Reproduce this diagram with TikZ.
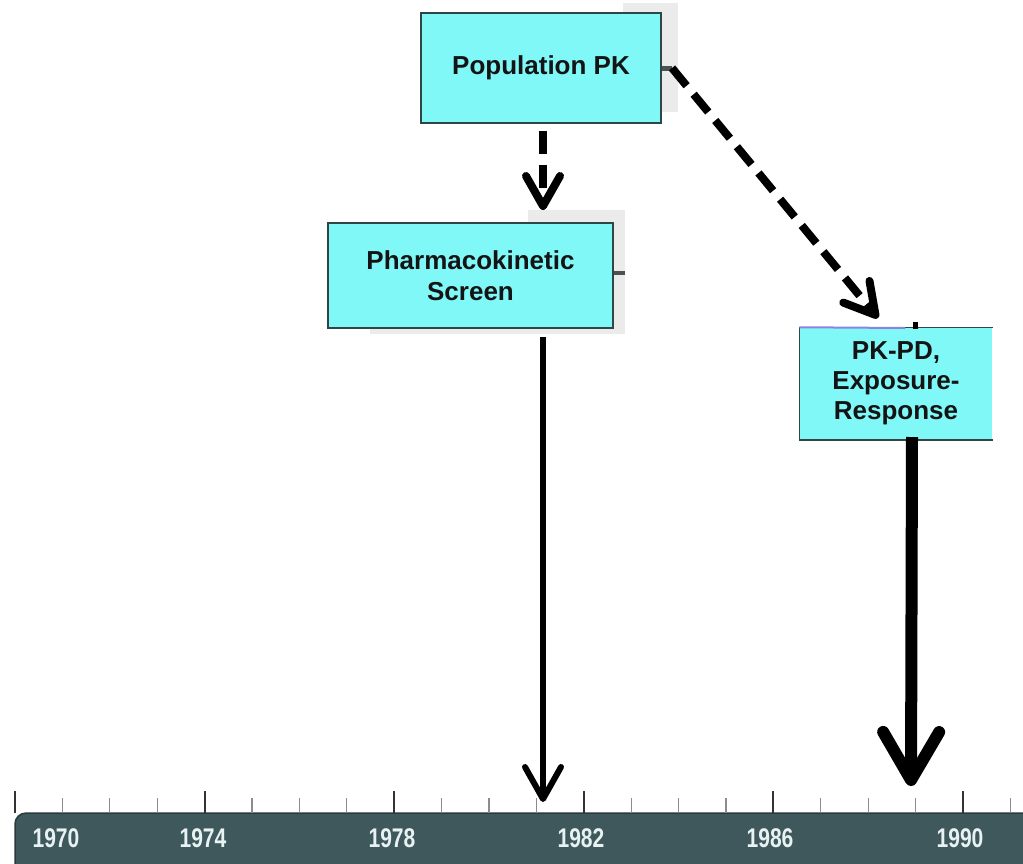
\documentclass[tikz,border=0pt]{standalone}
\usepackage{fontspec}
\usepackage{graphicx}
\setmainfont{Liberation Sans}
\usetikzlibrary{arrows.meta}
\definecolor{boxfill}{HTML}{80F8F8}
\definecolor{boxline}{HTML}{2E4646}
\definecolor{barfill}{HTML}{3E585C}
\definecolor{barline}{HTML}{2A3A3C}
\definecolor{yeartext}{HTML}{E8F2F2}
\definecolor{stubgray}{HTML}{4A5252}
\definecolor{edgeblue}{HTML}{8A86E0}
\begin{document}
\begin{tikzpicture}[x=1pt,y=-1pt,
  box/.style={draw=boxline, line width=1.5pt, fill=boxfill, text=black!92,
    font=\fontsize{26}{31}\selectfont\bfseries, align=center, inner sep=0pt},
  shadowbox/.style={fill=black!8, draw=none},
  dasharrow/.style={line width=8pt, dash pattern=on 23pt off 11pt,
    -{Straight Barb[length=30pt,width=34pt,round]}},
  solidarrow/.style={line width=6pt,
    -{Straight Barb[length=32pt,width=36pt,round]}},
  thickarrow/.style={line width=12pt,
    -{Straight Barb[length=48pt,width=56pt,round]}},
  stub/.style={stubgray, line width=5pt},
  minortick/.style={black!45, line width=1.3pt},
  majortick/.style={black!80, line width=2pt},
  yearlabel/.style={text=yeartext, font=\fontsize{27}{27}\selectfont\bfseries, inner sep=0pt}]
\useasboundingbox (0,0) rectangle (1023,863);
\fill[white] (0,0) rectangle (1023,863);

% shadows
\fill[shadowbox] (623,3) rectangle (678,112);
\fill[shadowbox] (528,210) rectangle (625,334);
\fill[shadowbox] (370,328) rectangle (625,334);

% boxes
\node[box, minimum width=240, minimum height=110] (pop) at (541,68) {Population PK};
\node[box, minimum width=285, minimum height=105] (pks) at (470.5,275.5) {Pharmacokinetic\\Screen};
\node[box, draw=none, minimum width=192, minimum height=111] (ppd) at (896,383.5) {PK-PD,\\[-1pt]Exposure-\\[-1pt]Response};
\draw[boxline, line width=1.5pt] (ppd.north east) -- (ppd.north west) -- (ppd.south west) -- (ppd.south east);
\draw[edgeblue, line width=2pt] (ppd.north west) -- (905,328);

% coordinates
\coordinate (popout) at (672,68);
\coordinate (popdown) at (543,131);
\coordinate (pkstip) at (543,210);
\coordinate (ppdtip) at (878,318);
\coordinate (pksout) at (625,273);
\coordinate (pksdown) at (543,337);
\coordinate (tip1981) at (543,802);
\coordinate (ppddown) at (912,437);
\coordinate (tip1989) at (911,786);
\coordinate (ppdtopa) at (915,322);
\coordinate (ppdtopb) at (915,329);

% stubs
\draw[stub] (pop.east) -- (popout);
\draw[stub, line width=4pt] (pks.east |- pksout) -- (pksout);
\draw[black, line width=5pt] (ppdtopa) -- (ppdtopb);

% arrows
\draw[dasharrow] (popdown) -- (pkstip);
\draw[dasharrow] (popout) -- (ppdtip);
\draw[solidarrow] (pksdown) -- (tip1981);
\draw[thickarrow] (ppddown) -- (tip1989);

% timeline bar
\fill[barfill, rounded corners=11pt] (15,813) rectangle (1040,890);
\draw[barline, line width=1.5pt, rounded corners=11pt] (15,890) -- (15,813) -- (1040,813);
\foreach \yr in {1970,...,1991}{
  \pgfmathsetmacro{\tx}{15+(\yr-1970)*47.4}
  \pgfmathtruncatemacro{\m}{mod(\yr-1970,4)}
  \ifnum\m=0
    \draw[majortick] (\tx,791) -- (\tx,813);
  \else
    \draw[minortick] (\tx,798) -- (\tx,813);
  \fi
}
\node[yearlabel] (y1970) at (56,838) {\scalebox{0.78}[1]{1970}};
\node[yearlabel] (y1974) at (203,838) {\scalebox{0.78}[1]{1974}};
\node[yearlabel] (y1978) at (392,838) {\scalebox{0.78}[1]{1978}};
\node[yearlabel] (y1982) at (581,838) {\scalebox{0.78}[1]{1982}};
\node[yearlabel] (y1986) at (770,838) {\scalebox{0.78}[1]{1986}};
\node[yearlabel] (y1990) at (960,838) {\scalebox{0.78}[1]{1990}};
\end{tikzpicture}
\end{document}
